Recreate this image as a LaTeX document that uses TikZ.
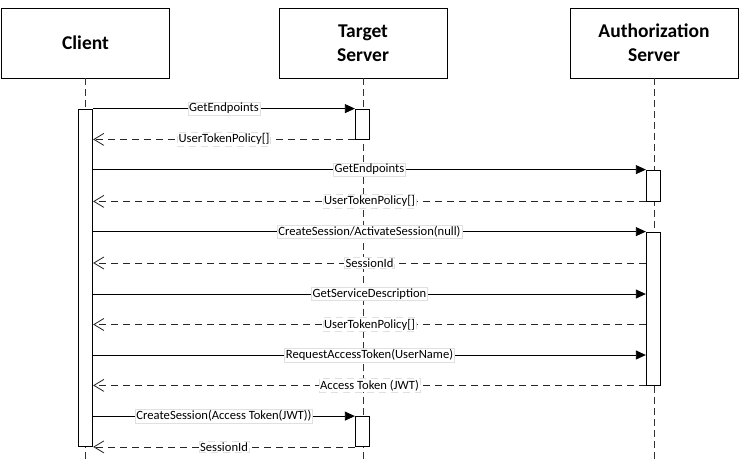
\documentclass[tikz,border=0pt]{standalone}
\usepackage{fontspec}
\setmainfont{Carlito}
\usetikzlibrary{arrows.meta}
\tikzset{
  head/.style={draw=black, line width=0.8pt, fill=white, minimum width=168pt, minimum height=70pt,
    align=center, inner sep=0pt, font=\bfseries\fontsize{19.5}{24}\selectfont},
  lifeline/.style={draw=black!80, line width=0.9pt, dash pattern=on 7pt off 4pt},
  actbar/.style={draw=black, line width=0.8pt, fill=white, minimum width=14.5pt, inner sep=0pt},
  call/.style={draw=black, line width=0.8pt, -{Triangle[length=10pt,width=9pt]}},
  reply/.style={draw=black!85, line width=0.8pt, dash pattern=on 7pt off 5pt, -{Straight Barb[length=10pt,width=12pt,line width=0.8pt]}},
  lbl/.style={fill=white, draw=black!12, line width=0.5pt, inner sep=1.2pt, font=\fontsize{12.6}{14}\selectfont, text=black}
}
\begin{document}
\begin{tikzpicture}[x=1pt,y=-1pt]
\useasboundingbox (0,0) rectangle (740,460);
% headers
\node[head] (client) at (85.5,43) {Client};
\node[head] (target) at (363,43) {Target\\Server};
\node[head] (auth) at (654,43) {Authorization\\Server};
% lifeline end points
\coordinate (cend) at (85.5,460);
\coordinate (tend) at (363,460);
\coordinate (aend) at (654,460);
\draw[lifeline] (client.south) -- (cend);
\draw[lifeline] (target.south) -- (tend);
\draw[lifeline] (auth.south) -- (aend);
% activation bars
\node[actbar, minimum height=337pt] (cbar) at (85.5,277.5) {};
\node[actbar, minimum height=30pt] (ta1) at (362.5,124) {};
\node[actbar, minimum height=31pt] (aa1) at (653.5,185.5) {};
\node[actbar, minimum height=153pt] (aa2) at (653.5,308.5) {};
\node[actbar, minimum height=30pt] (ta2) at (362.5,431.5) {};
% messages
\draw[call] (cbar.east |- ta1.north) -- node[lbl] {GetEndpoints} (ta1.north west);
\draw[reply] (ta1.south west) -- node[lbl] {UserTokenPolicy[]} (cbar.east |- ta1.south);
\draw[call] (cbar.east |- aa1.north) -- node[lbl] {GetEndpoints} (aa1.north west);
\draw[reply] (aa1.south west) -- node[lbl] {UserTokenPolicy[]} (cbar.east |- aa1.south);
\draw[call] (cbar.east |- aa2.north) -- node[lbl] {CreateSession/ActivateSession(null)} (aa2.north west);
\coordinate (a6) at (aa2.west |- 0,263);
\draw[reply] (a6) -- node[lbl] {SessionId} (cbar.east |- a6);
\coordinate (a7) at (aa2.west |- 0,294);
\draw[call] (cbar.east |- a7) -- node[lbl] {GetServiceDescription} (a7);
\coordinate (a8) at (aa2.west |- 0,324.5);
\draw[reply] (a8) -- node[lbl] {UserTokenPolicy[]} (cbar.east |- a8);
\coordinate (a9) at (aa2.west |- 0,355);
\draw[call] (cbar.east |- a9) -- node[lbl] {RequestAccessToken(UserName)} (a9);
\draw[reply] (aa2.south west) -- node[lbl] {Access Token (JWT)} (cbar.east |- aa2.south);
\draw[call] (cbar.east |- ta2.north) -- node[lbl] {CreateSession(Access Token(JWT))} (ta2.north west);
\draw[reply] (ta2.south west) -- node[lbl] {SessionId} (cbar.east |- ta2.south);
\end{tikzpicture}
\end{document}
